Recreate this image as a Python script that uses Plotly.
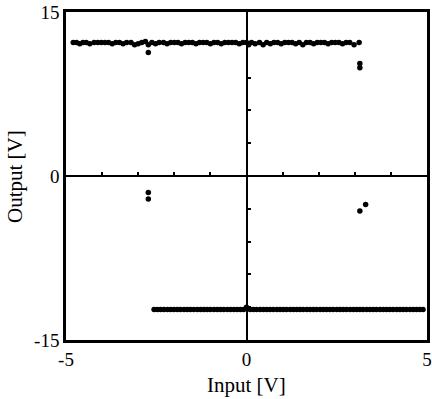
import plotly.graph_objects as go

# Upper saturation band (Output ~ +12.2 V)
upper_x = [-4.80, -4.71, -4.62, -4.53, -4.44, -4.34, -4.22, -4.12, -4.02, -3.92,
           -3.82, -3.72, -3.62, -3.52, -3.42, -3.32, -3.20, -3.10, -3.00, -2.90,
           -2.80, -2.72, -2.62, -2.52, -2.42, -2.30, -2.20, -2.10, -2.00, -1.90,
           -1.80, -1.70, -1.60, -1.50, -1.40, -1.30, -1.20, -1.10, -1.00, -0.90,
           -0.80, -0.70, -0.60, -0.50, -0.40, -0.30, -0.20, -0.10, 0.00, 0.06,
           0.14, 0.24, 0.36, 0.46, 0.56, 0.66, 0.76, 0.86, 0.96, 1.06,
           1.16, 1.26, 1.36, 1.46, 1.56, 1.66, 1.76, 1.86, 1.96, 2.06,
           2.16, 2.26, 2.36, 2.46, 2.56, 2.66, 2.76, 2.86, 2.98, 3.12]
upper_y = [12.2, 12.2, 12.1, 12.2, 12.2, 12.1, 12.2, 12.2, 12.2, 12.2,
           12.2, 12.1, 12.2, 12.2, 12.1, 12.2, 12.2, 12.0, 12.1, 12.2,
           12.3, 12.0, 12.2, 12.1, 12.2, 12.2, 12.1, 12.2, 12.2, 12.2,
           12.1, 12.2, 12.2, 12.2, 12.1, 12.2, 12.2, 12.2, 12.1, 12.2,
           12.2, 12.1, 12.2, 12.2, 12.2, 12.2, 12.1, 12.2, 12.2, 12.0,
           12.2, 12.1, 12.2, 12.0, 12.2, 12.1, 12.2, 12.2, 12.1, 12.2,
           12.2, 12.2, 12.1, 12.2, 12.0, 12.2, 12.2, 12.1, 12.2, 12.2,
           12.2, 12.1, 12.2, 12.2, 12.2, 12.1, 12.2, 12.2, 12.0, 12.2]

# Lower saturation band (Output ~ -12.2 V)
lower_x = [-2.56, -2.47, -2.38, -2.29, -2.19, -2.10, -2.01, -1.92, -1.83, -1.73,
           -1.64, -1.55, -1.46, -1.36, -1.27, -1.18, -1.09, -1.00, -0.90, -0.81,
           -0.72, -0.63, -0.53, -0.44, -0.35, -0.26, -0.17, -0.08, 0.00, 0.10,
           0.19, 0.28, 0.38, 0.47, 0.56, 0.65, 0.74, 0.84, 0.93, 1.02,
           1.11, 1.21, 1.30, 1.39, 1.48, 1.57, 1.67, 1.76, 1.85, 1.94,
           2.04, 2.13, 2.22, 2.31, 2.40, 2.50, 2.59, 2.68, 2.77, 2.87,
           2.96, 3.05, 3.14, 3.23, 3.33, 3.42, 3.51, 3.60, 3.70, 3.79,
           3.88, 3.97, 4.06, 4.16, 4.25, 4.34, 4.43, 4.53, 4.62, 4.71,
           4.80, 4.89]
lower_y = [-12.2] * 28 + [-12.0] + [-12.2] * 53

# Transition / outlier points
mid_x = [-2.72, -2.72, -2.72, 3.14, 3.14, 3.14, 3.30]
mid_y = [11.3, -1.5, -2.1, 10.3, 9.9, -3.2, -2.6]

x_title = "Input [V]"
y_title = "Output [V]"

xs = upper_x + lower_x + mid_x
ys = upper_y + lower_y + mid_y

FAM = "Liberation Serif, Times New Roman, serif"
tick_font = dict(family=FAM, size=19, color="black")
title_font = dict(family=FAM, size=21, color="black")

fig = go.Figure()
fig.add_trace(go.Scatter(x=xs, y=ys, mode="markers",
                         marker=dict(color="black", size=5.5, line=dict(width=0)),
                         showlegend=False, cliponaxis=False))
# dummy trace binding the centre axes
fig.add_trace(go.Scatter(x=[None], y=[None], xaxis="x2", yaxis="y2",
                         mode="markers", showlegend=False, hoverinfo="skip"))

W, H = 432, 399
L, R, T, B = 66, 5, 12, 59

fig.update_layout(
    width=W, height=H,
    margin=dict(l=L, r=R, t=T, b=B, autoexpand=False),
    paper_bgcolor="white", plot_bgcolor="white",
    font=tick_font,
    xaxis=dict(range=[-5, 5], tickvals=[-5, 0, 5], ticktext=["-5", "0", "5"],
               showline=True, linecolor="black", linewidth=2.5, mirror=True,
               ticks="inside", ticklen=4, tickwidth=2, tickcolor="black",
               showgrid=False, zeroline=False, tickfont=tick_font, automargin=False),
    yaxis=dict(range=[-15, 15], tickvals=[-15, 0, 15], ticktext=["-15", "0", "15"],
               showline=True, linecolor="black", linewidth=2.5, mirror=True,
               ticks="inside", ticklen=4, tickwidth=2, tickcolor="black",
               showgrid=False, zeroline=False, tickfont=tick_font, automargin=False),
    xaxis2=dict(range=[-5, 5], overlaying="x", anchor="free", position=0.5, side="bottom",
                tickvals=[-4, -3, -2, -1, 1, 2, 3, 4], showticklabels=False,
                ticks="inside", ticklen=3, tickwidth=2, tickcolor="black",
                showline=True, linecolor="black", linewidth=2,
                showgrid=False, zeroline=False, automargin=False),
    yaxis2=dict(range=[-15, 15], overlaying="y", anchor="free", position=0.5, side="left",
                tickvals=[-12, -9, -6, -3, 3, 6, 9, 12], showticklabels=False,
                ticks="inside", ticklen=3, tickwidth=2, tickcolor="black",
                showline=True, linecolor="black", linewidth=2,
                showgrid=False, zeroline=False, automargin=False),
    annotations=[
        dict(text=x_title, xref="paper", yref="paper", x=0.5,
             y=-(385 - (H - B)) / (H - T - B), xanchor="center", yanchor="middle",
             showarrow=False, font=title_font),
        dict(text=y_title, xref="paper", yref="paper",
             x=-(L - 15) / (W - L - R), y=0.5, xanchor="center", yanchor="middle",
             textangle=-90, showarrow=False, font=title_font),
    ],
)

fig.write_html("out.html", config={"displayModeBar": False},
               post_script="document.body.style.margin='0';document.body.style.overflow='hidden';")
